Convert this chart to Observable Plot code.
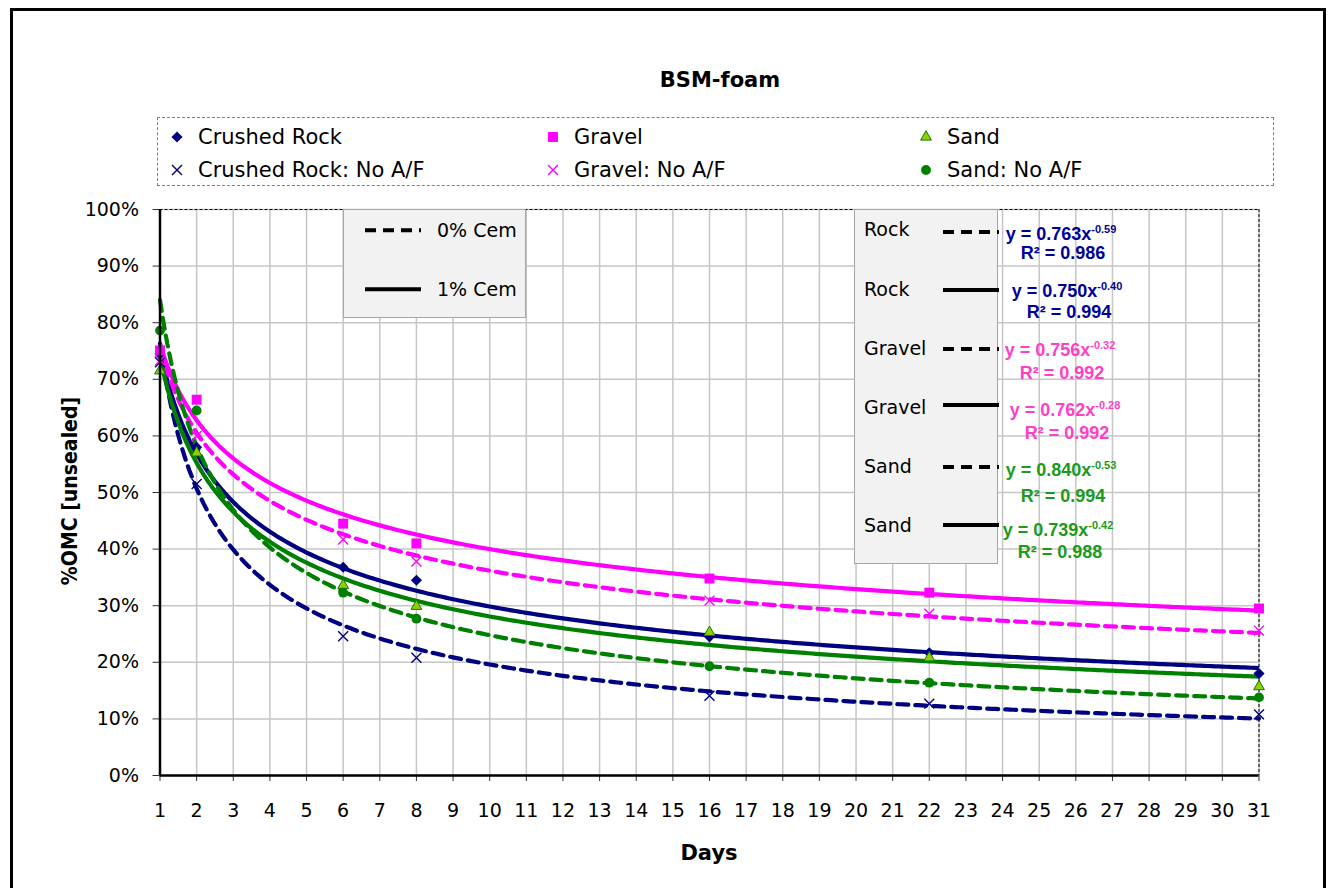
<!DOCTYPE html>
<html>
<head>
<meta charset="utf-8">
<script src="https://cdn.jsdelivr.net/npm/d3@7"></script>
<script src="https://cdn.jsdelivr.net/npm/@observablehq/plot@0.6"></script>
<style>
  body { margin: 0; background: #fff; }
  #chart { position: relative; width: 1330px; height: 888px; overflow: hidden; font-family: "DejaVu Sans", sans-serif; color: #000; }
  #chart svg.plot { position: absolute; left: 0; top: 0; }
  .frame { position: absolute; left: 10px; top: 8px; width: 1310px; height: 920px; border: 3px solid #000; }
  .title { position: absolute; font-weight: bold; white-space: nowrap; transform: translate(-50%, -50%); }
  .legend { position: absolute; left: 157px; top: 117px; width: 1115px; height: 67px; border: 1px dashed #7f7f7f; background: #fff; }
  .legend .item { position: absolute; display: flex; align-items: center; font-size: 21px; white-space: nowrap; transform: translateY(-50%); }
  .legend .item svg { margin-right: 14px; }
  .box { position: absolute; background: #f2f2f2; border: 1px solid #a6a6a6; }
  .box .row { position: absolute; font-size: 19px; white-space: nowrap; transform: translateY(-50%); }
  .eq { position: absolute; font-family: "Liberation Sans", Arial, sans-serif; font-weight: bold; font-size: 18px; white-space: nowrap; transform: translate(-50%, -50%); }
  .eq sup { font-size: 11px; vertical-align: 7px; line-height: 0; }
</style>
</head>
<body>
<div id="chart"></div>
<script>
// Sampling days and measured moisture (fraction of OMC, unsealed)
const days = [1, 2, 6, 8, 16, 22, 31];
const crushedRock      = [0.745, 0.580, 0.368, 0.345, 0.245, 0.217, 0.180];
const crushedRockNoAF  = [0.730, 0.515, 0.246, 0.208, 0.141, 0.127, 0.108];
const gravel           = [0.751, 0.664, 0.445, 0.410, 0.348, 0.323, 0.295];
const gravelNoAF       = [0.733, 0.600, 0.417, 0.378, 0.309, 0.286, 0.256];
const sand             = [0.715, 0.570, 0.336, 0.299, 0.253, 0.208, 0.157];
const sandNoAF         = [0.786, 0.645, 0.323, 0.277, 0.193, 0.164, 0.138];

// Power trendlines y = a·x^b
const fitMaterial = ["Rock", "Rock", "Gravel", "Gravel", "Sand", "Sand"];
const fitCement   = ["0% Cem", "1% Cem", "0% Cem", "1% Cem", "0% Cem", "1% Cem"];
const fitA        = [0.763, 0.750, 0.756, 0.762, 0.840, 0.739];
const fitB        = [-0.59, -0.40, -0.32, -0.28, -0.53, -0.42];
const fitR2       = [0.986, 0.994, 0.992, 0.992, 0.994, 0.988];

// Axis ticks
const xTicks = d3.range(1, 32);
const yTicks = [0, 0.1, 0.2, 0.3, 0.4, 0.5, 0.6, 0.7, 0.8, 0.9, 1.0];

// Styling
const NAVY = "#000080", MAGENTA = "#ff00ff", GREEN = "#008000", LIME = "#99cc00";
const materialColor = {Rock: NAVY, Gravel: MAGENTA, Sand: GREEN};
const labelColor = {Rock: "#000099", Gravel: "#ff3fc8", Sand: "#1c9a1c"};
const DASH = "11,7";

const seriesStyle = [
  {name: "Crushed Rock",         values: crushedRock,     symbol: "diamond2", r: 5.0, fill: NAVY,    stroke: "none", sw: 0},
  {name: "Gravel",               values: gravel,          symbol: "square",   r: 5.6, fill: MAGENTA, stroke: "none", sw: 0},
  {name: "Sand",                 values: sand,            symbol: "triangle", r: 4.0, fill: LIME,    stroke: GREEN,  sw: 1},
  {name: "Crushed Rock: No A/F", values: crushedRockNoAF, symbol: "times",    r: 4.6, fill: "none",  stroke: NAVY,    sw: 1.4},
  {name: "Gravel: No A/F",       values: gravelNoAF,      symbol: "times",    r: 4.6, fill: "none",  stroke: MAGENTA, sw: 1.4},
  {name: "Sand: No A/F",         values: sandNoAF,        symbol: "circle",   r: 4.9, fill: GREEN,   stroke: "none", sw: 0}
];

const curveDays = d3.range(1, 31.0001, 0.1);
const trendMarks = fitA.map((a, i) => Plot.line(
  curveDays.map(d => ({day: d, v: a * Math.pow(d, fitB[i])})),
  {
    x: "day", y: "v",
    stroke: materialColor[fitMaterial[i]],
    strokeWidth: 4.2,
    strokeLinecap: fitCement[i] === "0% Cem" ? "round" : "butt",
    strokeDasharray: fitCement[i] === "0% Cem" ? DASH : null
  }
));

const dotMarks = seriesStyle.map(s => Plot.dot(
  days.map((d, j) => ({day: d, v: s.values[j]})),
  {x: "day", y: "v", symbol: () => s.symbol, r: s.r, fill: s.fill, stroke: s.stroke, strokeWidth: s.sw}
));

const plot = Plot.plot({
  width: 1330,
  height: 888,
  marginLeft: 159.5,
  marginRight: 71.5,
  marginTop: 209,
  marginBottom: 113,
  x: {type: "linear", domain: [1, 31]},
  y: {type: "linear", domain: [0, 1]},
  symbol: {type: "identity"},
  style: {background: "transparent", fontFamily: "'DejaVu Sans', sans-serif", fontSize: "19px", color: "#000", overflow: "visible"},
  marks: [
    Plot.gridX(xTicks, {stroke: "#c6c6c6", strokeOpacity: 1, strokeWidth: 1.5}),
    Plot.gridY(yTicks, {stroke: "#c6c6c6", strokeOpacity: 1, strokeWidth: 1.5}),
    Plot.ruleY([1], {stroke: "#000", strokeWidth: 1, strokeDasharray: "3,2"}),
    Plot.ruleX([31], {stroke: "#000", strokeWidth: 1, strokeDasharray: "3,2"}),
    Plot.axisX(xTicks, {tickSize: 6, tickPadding: 22, label: null, fontSize: 19, stroke: "#333"}),
    Plot.axisY(yTicks, {tickSize: 7, tickPadding: 14, label: null, fontSize: 19, stroke: "#333", tickFormat: d3.format(".0%")}),
    ...trendMarks,
    ...dotMarks,
    Plot.ruleX([1], {stroke: "#000", strokeWidth: 2.5}),
    Plot.ruleY([0], {stroke: "#000", strokeWidth: 2.5})
  ]
});
plot.classList.add("plot");

const chart = document.getElementById("chart");
chart.appendChild(plot);

function el(tag, cls, parent, html) {
  const e = document.createElement(tag);
  if (cls) e.className = cls;
  if (html != null) e.innerHTML = html;
  parent.appendChild(e);
  return e;
}

// Outer frame
el("div", "frame", chart);

// Titles
const t1 = el("div", "title", chart, "BSM-foam");
Object.assign(t1.style, {left: "720px", top: "80px", fontSize: "21px"});
const t2 = el("div", "title", chart, "Days");
Object.assign(t2.style, {left: "709px", top: "853px", fontSize: "21px"});
const t3 = el("div", "title", chart, "%OMC [unsealed]");
Object.assign(t3.style, {left: "69px", top: "491px", fontSize: "22px", transform: "translate(-50%, -50%) rotate(-90deg) scaleX(0.86)"});

// Marker legend
function symbolSvg(s) {
  const size = Math.PI * s.r * s.r;
  const typeMap = {diamond2: d3.symbolDiamond2, square: d3.symbolSquare, triangle: d3.symbolTriangle, times: d3.symbolTimes, circle: d3.symbolCircle};
  const path = d3.symbol(typeMap[s.symbol], size)();
  return `<svg width="14" height="14" viewBox="-7 -7 14 14"><path d="${path}" fill="${s.fill}" stroke="${s.stroke}" stroke-width="${s.sw}"/></svg>`;
}
const legend = el("div", "legend", chart);
const colX = [12, 388, 761];
const rowY = [19, 52];
seriesStyle.forEach((s, i) => {
  const it = el("div", "item", legend, symbolSvg(s) + `<span>${s.name}</span>`);
  it.style.left = colX[i % 3] + "px";
  it.style.top = rowY[Math.floor(i / 3)] + "px";
});

// Line-style legend (cement content)
const box1 = el("div", "box", chart);
Object.assign(box1.style, {left: "343px", top: "209px", width: "181px", height: "107px"});
const cemLevels = ["0% Cem", "1% Cem"];
cemLevels.forEach((c, i) => {
  const top = [19, 78][i];
  const dash = c === "0% Cem" ? DASH : "none";
  el("div", "row", box1, `<svg width="56" height="6" style="vertical-align:middle;margin-right:16px"><line x1="0" y1="3" x2="56" y2="3" stroke="#000" stroke-width="4" stroke-dasharray="${dash}"/></svg><span style="vertical-align:middle">${c}</span>`)
    .style.cssText = `left:21px;top:${top}px`;
});

// Trendline legend with fitted equations
const box2 = el("div", "box", chart);
Object.assign(box2.style, {left: "854px", top: "209px", width: "142px", height: "353px"});
const rowTop = [19, 79, 138, 197, 256, 315];
const lineTop = [23, 81, 140, 196, 258, 316];
const eqCx = [1061, 1067, 1060, 1065, 1061, 1058];
const eqCy = [234, 291, 350, 410, 470, 530];
const r2Cy = [253, 312, 373, 433, 496, 552];
fitA.forEach((a, i) => {
  const r = el("div", "row", box2, fitMaterial[i]);
  r.style.cssText = `left:9px;top:${rowTop[i]}px`;
  const dash = fitCement[i] === "0% Cem" ? DASH : "none";
  const ls = el("div", null, chart, `<svg width="56" height="6"><line x1="0" y1="3" x2="56" y2="3" stroke="#000" stroke-width="4" stroke-dasharray="${dash}"/></svg>`);
  ls.style.cssText = `position:absolute;left:943px;top:${209 + lineTop[i] - 3}px;height:6px;line-height:0`;
  const col = labelColor[fitMaterial[i]];
  const e1 = el("div", "eq", chart, `y = ${a.toFixed(3)}x<sup>${fitB[i].toFixed(2)}</sup>`);
  e1.style.cssText = `left:${eqCx[i]}px;top:${eqCy[i]}px;color:${col}`;
  const e2 = el("div", "eq", chart, `R² = ${fitR2[i].toFixed(3)}`);
  e2.style.cssText = `left:${eqCx[i] + 2}px;top:${r2Cy[i]}px;color:${col}`;
});
</script>
</body>
</html>
